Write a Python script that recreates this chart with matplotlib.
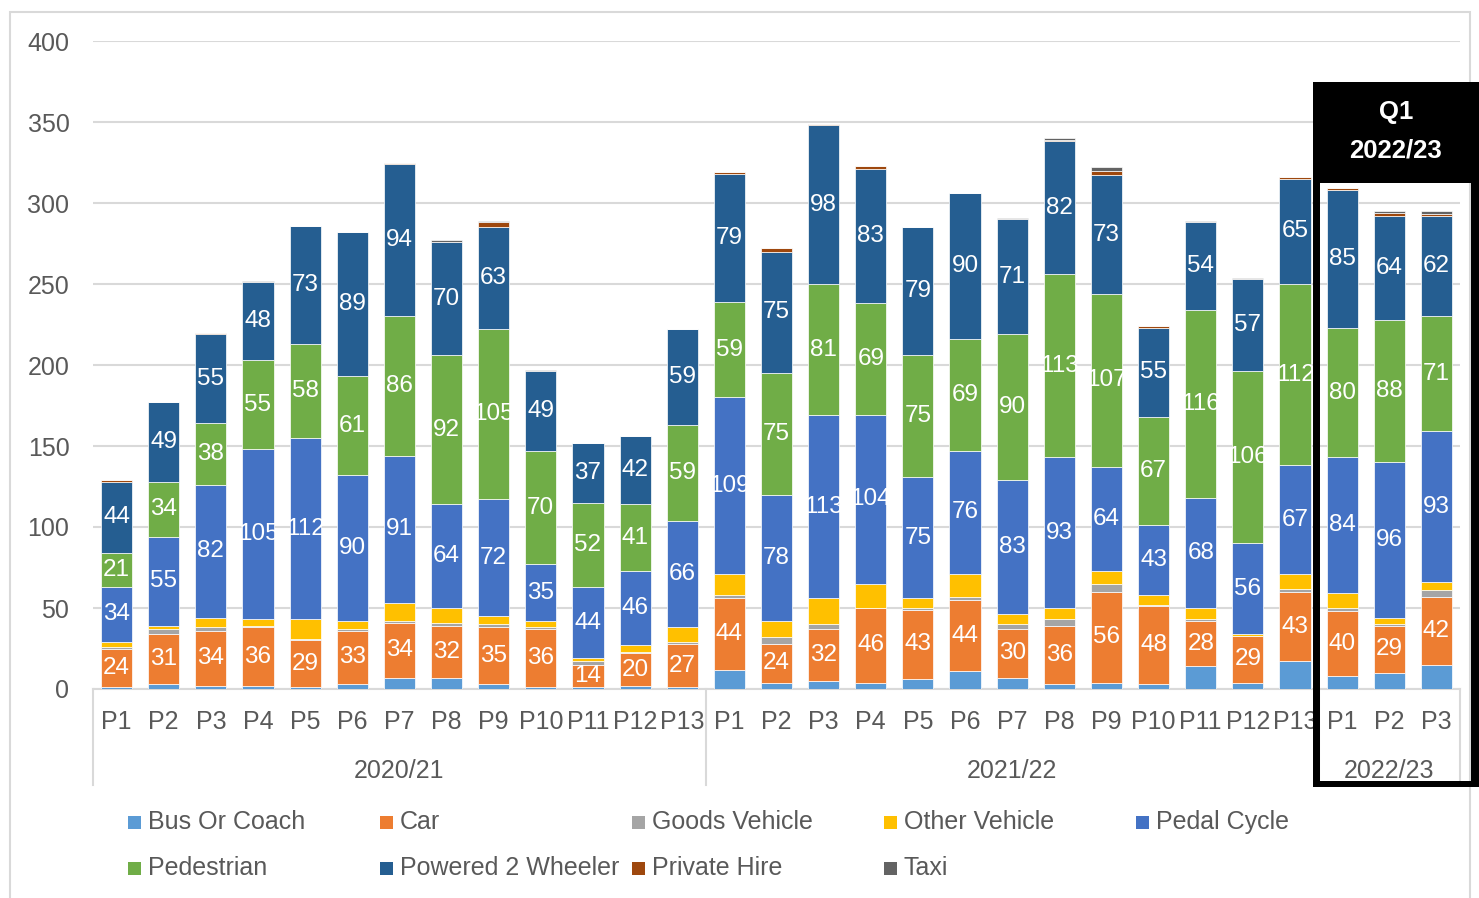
import matplotlib
matplotlib.use("Agg")
import matplotlib.pyplot as plt
import numpy as np
from matplotlib.patches import Rectangle
from matplotlib.transforms import blended_transform_factory

plt.rcParams['font.family'] = ['Liberation Sans', 'DejaVu Sans']

# périodes et années
periods = ["P%d" % i for i in range(1, 14)] * 2 + ["P1", "P2", "P3"]
years = ["2020/21", "2021/22", "2022/23"]
year_sizes = [13, 13, 3]

series = ["Bus Or Coach", "Car", "Goods Vehicle", "Other Vehicle", "Pedal Cycle",
          "Pedestrian", "Powered 2 Wheeler", "Private Hire", "Taxi"]
colors = ["#5B9BD5", "#ED7D31", "#A5A5A5", "#FFC000", "#4472C4",
          "#70AD47", "#255E91", "#9E480E", "#636363"]

bus = [1, 3, 2, 2, 1, 3, 7, 7, 3, 1, 1, 2, 1,
       12, 4, 5, 4, 6, 11, 7, 3, 4, 3, 14, 4, 17,
       8, 10, 15]
car = [24, 31, 34, 36, 29, 33, 34, 32, 35, 36, 14, 20, 27,
       44, 24, 32, 46, 43, 44, 30, 36, 56, 48, 28, 29, 43,
       40, 29, 42]
goods = [1, 3, 2, 1, 1, 1, 1, 2, 2, 1, 2, 1, 1,
         2, 4, 3, 0, 1, 2, 3, 4, 5, 1, 1, 0, 2,
         2, 1, 4]
other = [3, 2, 6, 4, 12, 5, 11, 9, 5, 4, 2, 4, 9,
         13, 10, 16, 15, 6, 14, 6, 7, 8, 6, 7, 1, 9,
         9, 4, 5]
pedal = [34, 55, 82, 105, 112, 90, 91, 64, 72, 35, 44, 46, 66,
         109, 78, 113, 104, 75, 76, 83, 93, 64, 43, 68, 56, 67,
         84, 96, 93]
pedestrian = [21, 34, 38, 55, 58, 61, 86, 92, 105, 70, 52, 41, 59,
              59, 75, 81, 69, 75, 69, 90, 113, 107, 67, 116, 106, 112,
              80, 88, 71]
p2w = [44, 49, 55, 48, 73, 89, 94, 70, 63, 49, 37, 42, 59,
       79, 75, 98, 83, 79, 90, 71, 82, 73, 55, 54, 57, 65,
       85, 64, 62]
private_hire = [1, 0, 1, 0, 0, 0, 1, 0, 3, 0, 0, 0, 0,
                1, 2, 1, 2, 0, 0, 0, 1, 3, 1, 0, 0, 1,
                1, 2, 1]
taxi = [0, 0, 0, 1, 0, 0, 0, 1, 1, 1, 0, 0, 0,
        0, 0, 0, 0, 0, 0, 1, 1, 2, 0, 1, 1, 0,
        0, 1, 2]

values = [bus, car, goods, other, pedal, pedestrian, p2w, private_hire, taxi]
labelled = ["Car", "Pedal Cycle", "Pedestrian", "Powered 2 Wheeler"]

W, H = 1479, 898
fig = plt.figure(figsize=(W / 100, H / 100), dpi=100)
ax = fig.add_axes([93 / W, 1 - 689 / H, (1460 - 93) / W, (689 - 41) / H])

def fx(x):
    return x / W

def fy(y):
    return 1 - y / H

x = np.arange(len(periods))
bottom = np.zeros(len(periods))
for name, vals, col in zip(series, values, colors):
    vals = np.array(vals, dtype=float)
    bars = ax.bar(x, vals, 0.66, bottom=bottom, color=col, edgecolor="white",
                  linewidth=0.5, zorder=3)
    if name in labelled:
        ax.bar_label(bars, labels=[str(int(v)) for v in vals], label_type="center",
                     color="white", fontsize=17.5, zorder=4)
    bottom += vals

ax.set_xlim(-0.5, len(periods) - 0.5)
ax.set_ylim(0, 400)
ax.set_yticks(range(0, 401, 50))
ax.yaxis.grid(True, color="#D9D9D9", linewidth=1.5, zorder=0)
ax.set_axisbelow(True)
for s in ["top", "right", "left"]:
    ax.spines[s].set_visible(False)
ax.spines["bottom"].set_color("#D9D9D9")
ax.spines["bottom"].set_linewidth(1.5)
ax.tick_params(axis="y", length=0, pad=17, labelsize=18, labelcolor="#595959")
ax.set_xticks(x)
ax.set_xticklabels(periods)
ax.tick_params(axis="x", length=0, pad=15, labelsize=18, labelcolor="#595959")

# séparateurs et libellés des années
trans = blended_transform_factory(ax.transData, ax.transAxes)
edges = np.concatenate([[0], np.cumsum(year_sizes)]) - 0.5
for e in edges:
    ax.plot([e, e], [0, -96 / 648], transform=trans, color="#D9D9D9",
            linewidth=1.5, clip_on=False)
for i, yr in enumerate(years):
    ax.text((edges[i] + edges[i + 1]) / 2, -82 / 648, yr, transform=trans,
            ha="center", va="center", fontsize=18, color="#595959")

# cadre extérieur
fig.patches.append(Rectangle((fx(10), fy(910)), fx(1470) - fx(10), fy(12) - fy(910),
                             transform=fig.transFigure, fill=False,
                             edgecolor="#D9D9D9", linewidth=1.5))

# encadré Q1 2022/23
for (x0, y0, x1, y1) in [(1313, 82, 1479, 183), (1313, 183, 1320, 787),
                         (1471, 183, 1479, 787), (1313, 781, 1479, 787)]:
    fig.patches.append(Rectangle((fx(x0), fy(y1)), fx(x1) - fx(x0), fy(y0) - fy(y1),
                                 transform=fig.transFigure, facecolor="black",
                                 edgecolor="none", zorder=5))
fig.text(fx(1396), fy(112), "Q1", ha="center", va="center", color="white",
         fontsize=18.5, fontweight="bold", zorder=6)
fig.text(fx(1396), fy(150), "2022/23", ha="center", va="center", color="white",
         fontsize=18.5, fontweight="bold", zorder=6)

# légende
for i, (name, col) in enumerate(zip(series, colors)):
    cx = 128 + 252 * (i % 5)
    cy = 822 + 46 * (i // 5)
    fig.patches.append(Rectangle((fx(cx), fy(cy + 7)), fx(13), 13 / H,
                                 transform=fig.transFigure, facecolor=col,
                                 edgecolor="none"))
    fig.text(fx(cx + 20), fy(cy), name, ha="left", va="center",
             fontsize=18, color="#595959")

fig.savefig("out.png", dpi=100)
